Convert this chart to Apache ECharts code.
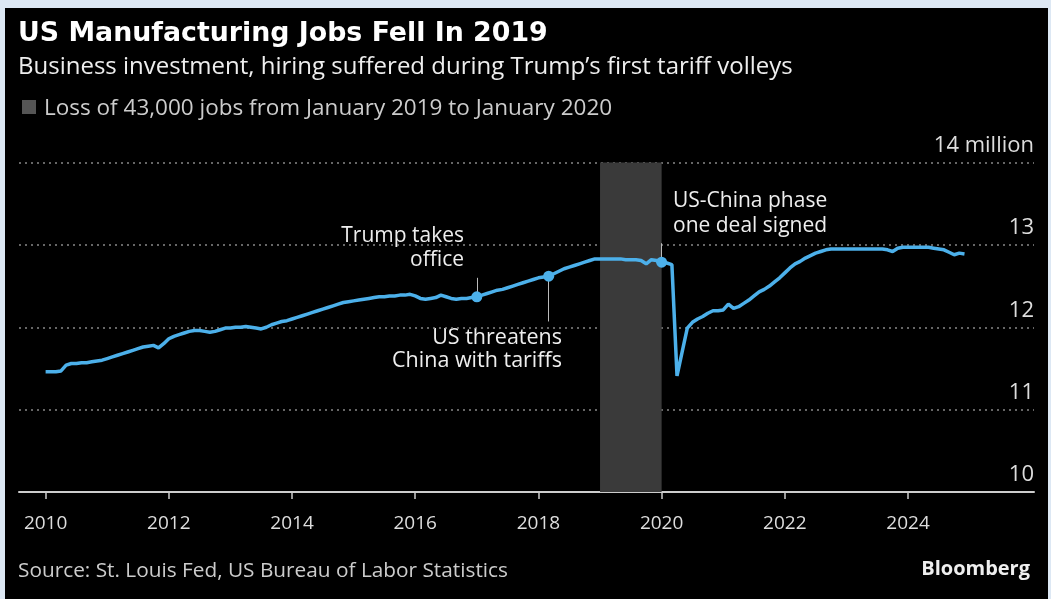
<!DOCTYPE html>
<html>
<head>
<meta charset="utf-8">
<script src="https://cdn.jsdelivr.net/npm/echarts@6/dist/echarts.min.js"></script>
<style>
html, body { margin: 0; padding: 0; background: #dde8f4; }
#chart {
    width: 1051px; height: 599px; background: #000;
    box-shadow: inset 5px 8px 0 #dde8f4, inset -3px 0 0 #dde8f4;
}
</style>
</head>
<body>
<div id="chart"></div>
<script>
// monthly US manufacturing employment, millions, Jan 2010 - Dec 2024
var startYear = 2010;
var jobs = [
    11.46, 11.46, 11.46, 11.47, 11.54, 11.56, 11.56, 11.57, 11.57, 11.58, 11.59, 11.60, // 2010
    11.62, 11.64, 11.66, 11.68, 11.70, 11.72, 11.74, 11.76, 11.77, 11.78, 11.75, 11.80, // 2011
    11.86, 11.89, 11.91, 11.93, 11.95, 11.96, 11.96, 11.95, 11.94, 11.95, 11.97, 11.99, // 2012
    11.99, 12.00, 12.00, 12.01, 12.00, 11.99, 11.98, 12.00, 12.03, 12.05, 12.07, 12.08, // 2013
    12.10, 12.12, 12.14, 12.16, 12.18, 12.20, 12.22, 12.24, 12.26, 12.28, 12.30, 12.31, // 2014
    12.32, 12.33, 12.34, 12.35, 12.36, 12.37, 12.37, 12.38, 12.38, 12.39, 12.39, 12.40, // 2015
    12.38, 12.35, 12.34, 12.35, 12.36, 12.39, 12.37, 12.35, 12.34, 12.35, 12.35, 12.36, // 2016
    12.37, 12.39, 12.41, 12.43, 12.45, 12.46, 12.48, 12.50, 12.52, 12.54, 12.56, 12.58, // 2017
    12.60, 12.61, 12.62, 12.65, 12.68, 12.71, 12.73, 12.75, 12.77, 12.79, 12.81, 12.83, // 2018
    12.83, 12.83, 12.83, 12.83, 12.83, 12.82, 12.82, 12.82, 12.81, 12.77, 12.82, 12.81, // 2019
    12.79, 12.78, 12.76, 11.41, 11.70, 11.99, 12.06, 12.10, 12.13, 12.17, 12.20, 12.20, // 2020
    12.21, 12.28, 12.23, 12.25, 12.29, 12.33, 12.38, 12.43, 12.46, 12.50, 12.55, 12.60, // 2021
    12.66, 12.72, 12.77, 12.80, 12.84, 12.87, 12.90, 12.92, 12.94, 12.95, 12.95, 12.95, // 2022
    12.95, 12.95, 12.95, 12.95, 12.95, 12.95, 12.95, 12.95, 12.94, 12.92, 12.96, 12.97, // 2023
    12.97, 12.97, 12.97, 12.97, 12.97, 12.96, 12.95, 12.94, 12.91, 12.88, 12.90, 12.89  // 2024
];
var xTicks = [2010, 2012, 2014, 2016, 2018, 2020, 2022, 2024];
var band = [2019, 2020];
// Trump takes office, tariff threat, phase one deal
var events = [2017, 2018 + 2 / 12, 2020];
var leaderEnds = [12.6, 12.07, 13.02];

var font = "'Open Sans', 'Noto Sans', sans-serif";
var lineBlue = '#4cb0ea';

var lineData = jobs.map(function (v, i) { return [startYear + i / 12, v]; });
function valueAt(x) { return jobs[Math.round((x - startYear) * 12)]; }

var myChart = echarts.init(document.getElementById('chart'));

myChart.setOption({
    animation: false,
    title: [
        {
            text: 'US Manufacturing Jobs Fell In 2019',
            left: 18, top: 19, padding: 0,
            textStyle: { color: '#fff', fontFamily: "'DejaVu Sans', sans-serif", fontWeight: 'bold', fontSize: 26.8, lineHeight: 30 }
        },
        {
            text: 'Business investment, hiring suffered during Trump\u2019s first tariff volleys',
            left: 18, top: 53, padding: 0,
            textStyle: { color: '#eee', fontFamily: font, fontWeight: 'normal', fontSize: 24, lineHeight: 28 }
        },
        {
            text: 'Loss of 43,000 jobs from January 2019 to January 2020',
            left: 44, top: 96, padding: 0,
            textStyle: { color: '#ccc', fontFamily: font, fontWeight: 'normal', fontSize: 22.5, lineHeight: 26 }
        },
        {
            text: 'Source: St. Louis Fed, US Bureau of Labor Statistics',
            left: 18, top: 559, padding: 0,
            textStyle: { color: '#ccc', fontFamily: font, fontWeight: 'normal', fontSize: 20.8, lineHeight: 24 }
        },
        {
            text: 'Bloomberg',
            right: 21, top: 557, padding: 0,
            textStyle: { color: '#eee', fontFamily: font, fontWeight: 'bold', fontSize: 20, lineHeight: 24 }
        }
    ],
    graphic: [
        { type: 'rect', shape: { x: 22, y: 100, width: 14, height: 14 }, style: { fill: '#555' } },
        {
            type: 'text', x: 464, y: 248,
            style: { text: 'Trump takes\noffice', fill: '#eee', font: '21px ' + font, textAlign: 'right', textVerticalAlign: 'middle', lineHeight: 24 }
        },
        {
            type: 'text', x: 562, y: 349,
            style: { text: 'US threatens\nChina with tariffs', fill: '#eee', font: '21.5px ' + font, textAlign: 'right', textVerticalAlign: 'middle', lineHeight: 23 }
        },
        {
            type: 'text', x: 673, y: 214,
            style: { text: 'US-China phase\none deal signed', fill: '#eee', font: '21px ' + font, textAlign: 'left', textVerticalAlign: 'middle', lineHeight: 25 }
        }
    ],
    grid: { left: 19, right: 17, top: 162.5, bottom: 107 },
    xAxis: {
        type: 'value',
        min: 2009.568,
        max: 2026.045,
        axisLine: { show: true, lineStyle: { color: '#ccc', width: 2 } },
        axisTick: { show: true, customValues: xTicks, length: 7, lineStyle: { color: '#ccc', width: 1.5 } },
        axisLabel: {
            customValues: xTicks, color: '#ddd', fontFamily: font, fontSize: 19, margin: 22,
            formatter: function (v) { return String(v); }
        },
        splitLine: { show: false }
    },
    yAxis: {
        type: 'value',
        position: 'right',
        min: 10, max: 14, interval: 1,
        axisLine: { show: false },
        axisTick: { show: false },
        axisLabel: {
            inside: true, margin: 0, verticalAlign: 'bottom', padding: [0, 0, 6, 0],
            color: '#ddd', fontFamily: font, fontSize: 22,
            formatter: function (v) { return v === 14 ? '14 million' : v; }
        },
        splitLine: { show: true, lineStyle: { color: '#888', type: [2, 4], width: 1.5 } }
    },
    series: [
        {
            type: 'line',
            data: lineData,
            showSymbol: false,
            lineStyle: { color: lineBlue, width: 3.5 },
            itemStyle: { color: lineBlue },
            z: 3,
            markArea: {
                silent: true,
                itemStyle: { color: '#3a3a3a' },
                data: [[{ xAxis: band[0] }, { xAxis: band[1] }]]
            },
            markLine: {
                silent: true,
                symbol: 'none',
                label: { show: false },
                lineStyle: { color: '#bbb', width: 1, type: 'solid' },
                data: events.map(function (x, i) {
                    return [{ coord: [x, valueAt(x)] }, { coord: [x, leaderEnds[i]] }];
                })
            },
            markPoint: {
                silent: true,
                symbol: 'circle',
                symbolSize: 11,
                label: { show: false },
                itemStyle: { color: lineBlue },
                data: events.map(function (x) { return { coord: [x, valueAt(x)] }; })
            }
        }
    ]
});
</script>
</body>
</html>
